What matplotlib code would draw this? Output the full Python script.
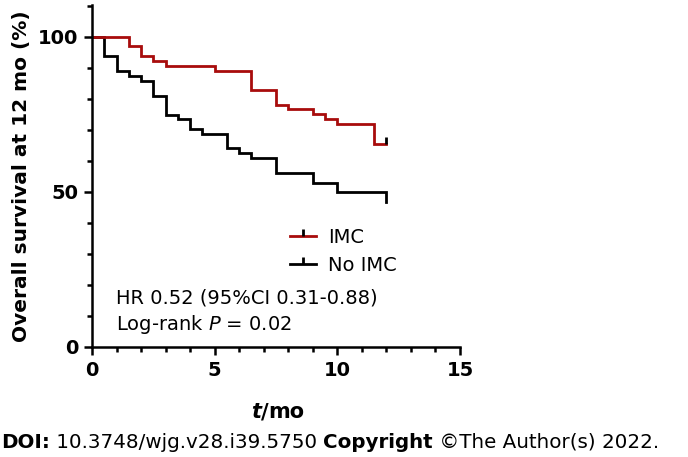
import numpy as np
from matplotlib import pyplot as plt
from matplotlib.lines import Line2D
from matplotlib.ticker import MultipleLocator

# Kaplan-Meier step data
times_imc = [0, 1.5, 2.0, 2.5, 3.0, 5.0, 6.5, 7.5, 8.0, 9.0, 9.5, 10.0, 11.5, 12.0]
surv_imc = [100, 97.1, 93.9, 92.3, 90.6, 89.1, 82.9, 78.1, 76.7, 75.1, 73.5, 71.8, 65.6, 65.6]

times_no = [0, 0.5, 1.0, 1.5, 2.0, 2.5, 3.0, 3.5, 4.0, 4.5, 5.5, 6.0, 6.5, 7.5, 9.0, 10.0, 12.0]
surv_no = [100, 93.9, 89.1, 87.5, 85.9, 81.1, 74.8, 73.5, 70.3, 68.7, 64.1, 62.5, 61.1, 56.2, 53.0, 49.9, 46.9]

censor_imc_t = [12.0]
censor_imc_s = [65.6]

labels = ["IMC", "No IMC"]
red = "#A80C0C"

tick_up = [(0, 0), (0, 1)]  # censor tick pointing up

fig = plt.figure(figsize=(6.88, 4.57), dpi=100)
ax = fig.add_axes([92 / 688, 1 - 347 / 457, 368 / 688, 342 / 457])

ax.step(times_no, surv_no, where="post", color="black", linewidth=2.0, solid_joinstyle="miter")
ax.step(times_imc, surv_imc, where="post", color=red, linewidth=2.0, solid_joinstyle="miter")
ax.plot(censor_imc_t, censor_imc_s, linestyle="none", marker=tick_up, markersize=10,
        markeredgewidth=2.0, color="black")

ax.set_xlim(0, 15)
ax.set_ylim(0, 110.3)
ax.xaxis.set_major_locator(MultipleLocator(5))
ax.xaxis.set_minor_locator(MultipleLocator(1))
ax.yaxis.set_major_locator(MultipleLocator(50))
ax.yaxis.set_minor_locator(MultipleLocator(10))

for side in ["top", "right"]:
    ax.spines[side].set_visible(False)
for side in ["left", "bottom"]:
    ax.spines[side].set_linewidth(1.8)
ax.tick_params(which="major", length=6, width=1.8, labelsize=14, pad=4)
ax.tick_params(which="minor", length=3.5, width=1.8)
for lab in ax.get_xticklabels() + ax.get_yticklabels():
    lab.set_fontweight("bold")

ax.set_ylabel("Overall survival at 12 mo (%)", fontsize=14.5, fontweight="bold", labelpad=5)

handles = [
    Line2D([], [], color=red, linewidth=2.0, marker=tick_up, markersize=10,
           markeredgecolor="black", markeredgewidth=2.0),
    Line2D([], [], color="black", linewidth=2.0, marker=tick_up, markersize=10,
           markeredgecolor="black", markeredgewidth=2.0),
]
ax.legend(handles, labels, loc="upper left", bbox_to_anchor=(282 / 688, 1 - 220 / 457),
          bbox_transform=fig.transFigure, frameon=False, fontsize=14, handlelength=1.35,
          handletextpad=0.6, labelspacing=0.45, numpoints=1, borderaxespad=0)

ax.text(116 / 688, 1 - 298 / 457, "HR 0.52 (95%CI 0.31-0.88)", transform=fig.transFigure,
        fontsize=14, va="center", ha="left")
ax.text(116 / 688, 1 - 324 / 457, "Log-rank $\\it{P}$ = 0.02", transform=fig.transFigure,
        fontsize=14, va="center", ha="left")

fig.canvas.draw()
renderer = fig.canvas.get_renderer()


def write_pieces(pieces, x0, y, size, center=False):
    # place text pieces one after another, in figure pixels
    objs = []
    x = x0
    for s, weight, style in pieces:
        t = fig.text(x / 688, 1 - y / 457, s, fontsize=size, fontweight=weight,
                     fontstyle=style, va="center", ha="left")
        w = t.get_window_extent(renderer).width
        objs.append(t)
        x += w
    if center:
        total = x - x0
        shift = total / 2
        for t in objs:
            px, py = t.get_position()
            t.set_position((px - shift / 688, py))
    return objs


write_pieces([("t", "bold", "italic"), ("/", "bold", "normal"), ("mo", "bold", "normal")],
             278, 412, 15, center=True)
write_pieces([("DOI:", "bold", "normal"), (" 10.3748/wjg.v28.i39.5750 ", "normal", "normal"),
              ("Copyright", "bold", "normal"), (" ©The Author(s) 2022.", "normal", "normal")],
             1, 442, 14.3)

fig.savefig("out.png", dpi=100)
